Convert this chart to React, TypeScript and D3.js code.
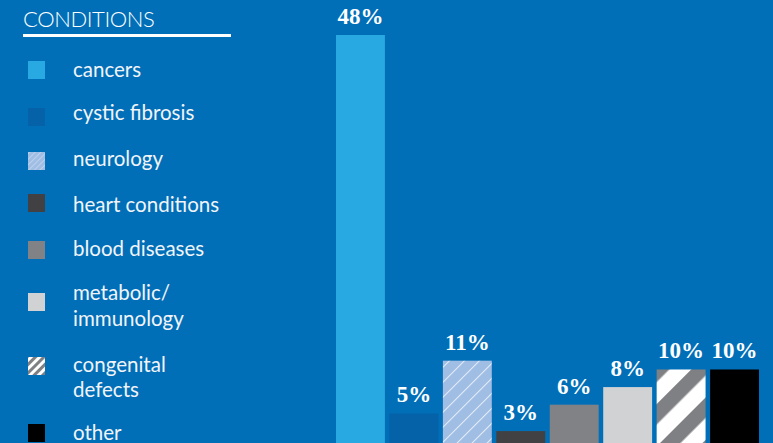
import React from "react";
import * as d3 from "d3";

const categories = [
  "cancers",
  "cystic fibrosis",
  "neurology",
  "heart conditions",
  "blood diseases",
  "metabolic/ immunology",
  "congenital defects",
  "other",
];
const values = [48, 5, 11, 3, 6, 8, 10, 10];
const legendLines = [
  ["cancers"],
  ["cystic fibrosis"],
  ["neurology"],
  ["heart conditions"],
  ["blood diseases"],
  ["metabolic/", "immunology"],
  ["congenital", "defects"],
  ["other"],
];
const fills = [
  "#29A9E1",
  "#0561A8",
  "url(#hatchNeuro)",
  "#414143",
  "#818285",
  "#D1D2D4",
  "url(#hatchCong)",
  "#000000",
];
const legendCenters = [70, 117, 161, 203, 250, 302, 366, 433];
const legendBaselines = [[77], [120], [166], [212], [256], [300, 326], [372, 397], [440]];

const W = 773;
const H = 443;
const BG = "#006FB8";

export default function App() {
  const x = d3
    .scaleBand<string>()
    .domain(categories)
    .range([336, 759])
    .paddingInner(0.085)
    .paddingOuter(0);
  const y = d3.scaleLinear().domain([0, 48]).range([457.5, 35]);
  const legendFont = "Lato, 'Open Sans', sans-serif";

  return (
    <svg
      width={W}
      height={H}
      style={{ position: "fixed", left: 0, top: 0, display: "block" }}
    >
      <defs>
        <pattern
          id="hatchNeuro"
          patternUnits="userSpaceOnUse"
          width={10.6}
          height={10.6}
          patternTransform="rotate(45)"
        >
          <rect width={10.6} height={10.6} fill="#A0BDE4" />
          <line x1={0.5} y1={0} x2={0.5} y2={10.6} stroke="#FFFFFF" strokeOpacity={0.8} strokeWidth={0.9} />
        </pattern>
        <pattern
          id="hatchCong"
          patternUnits="userSpaceOnUse"
          width={30}
          height={30}
          patternTransform="rotate(45)"
        >
          <rect width={30} height={30} fill="#FFFFFF" />
          <rect width={14.5} height={30} fill="#7F8083" />
        </pattern>
        <pattern
          id="hatchCongSmall"
          patternUnits="userSpaceOnUse"
          width={6}
          height={6}
          patternTransform="rotate(45)"
        >
          <rect width={6} height={6} fill="#FFFFFF" />
          <rect width={3} height={6} fill="#7F8083" />
        </pattern>
        <pattern
          id="hatchNeuroSmall"
          patternUnits="userSpaceOnUse"
          width={4}
          height={4}
          patternTransform="rotate(45)"
        >
          <rect width={4} height={4} fill="#A0BDE4" />
          <line x1={0.5} y1={0} x2={0.5} y2={4} stroke="#FFFFFF" strokeOpacity={0.3} strokeWidth={1} />
        </pattern>
      </defs>
      <rect width={W} height={H} fill={BG} />

      {/* Legend */}
      <text
        x={23}
        y={27}
        fill="#FFFFFF"
        fontFamily={legendFont}
        fontWeight={300}
        fontSize={22}
        letterSpacing={-0.4}
      >
        CONDITIONS
      </text>
      <rect x={23} y={34} width={208} height={3} fill="#FFFFFF" />
      {categories.map((c, i) => {
        let f = fills[i];
        if (i === 2) f = "url(#hatchNeuroSmall)";
        if (i === 6) f = "url(#hatchCongSmall)";
        return (
          <g key={c}>
            <rect x={28} y={legendCenters[i] - 9} width={17} height={18} fill={f} />
            {legendLines[i].map((t, j) => (
              <text
                key={j}
                x={73}
                y={legendBaselines[i][j]}
                fill="#F2F4F8"
                fontFamily={legendFont}
                fontSize={20.5}
              >
                {t}
              </text>
            ))}
          </g>
        );
      })}

      {/* Bars */}
      {categories.map((c, i) => (
        <g key={"b" + c}>
          <rect
            x={x(c)}
            y={y(values[i])}
            width={x.bandwidth()}
            height={y(0) - y(values[i])}
            fill={fills[i]}
          />
          <text
            x={(x(c) as number) + x.bandwidth() / 2}
            y={y(values[i]) - 11}
            textAnchor="middle"
            fill="#FFFFFF"
            fontFamily="'Liberation Serif', 'DejaVu Serif', serif"
            fontWeight="bold"
            fontSize={23}
          >
            {values[i] + "%"}
          </text>
        </g>
      ))}
    </svg>
  );
}
